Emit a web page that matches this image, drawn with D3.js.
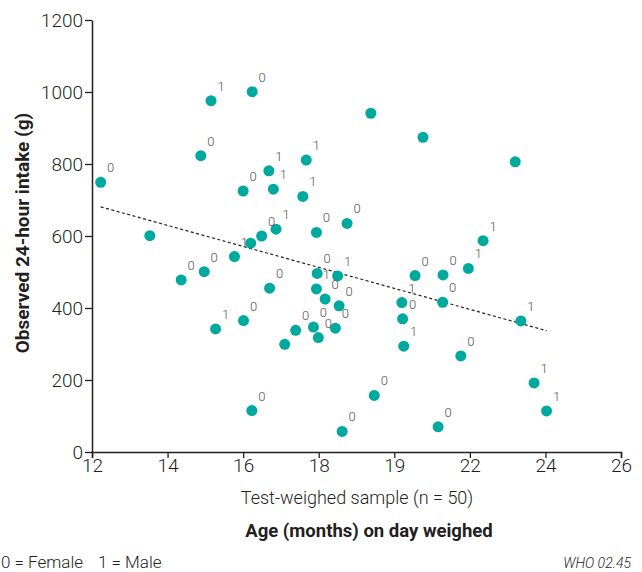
<!DOCTYPE html>
<html>
<head>
<meta charset="utf-8">
<script src="https://cdn.jsdelivr.net/npm/d3@7"></script>
<style>
  body { margin: 0; background: #fff; }
  svg text { font-family: Roboto, "Liberation Sans", sans-serif; font-weight: 300; }
</style>
</head>
<body>
<div id="chart"></div>
<script>
// age (months) on day weighed, observed 24-hour intake (g), sex label (0 = female, 1 = male)
const ages = [12.23, 13.53, 15.15, 16.24, 14.88, 16.68, 16.0, 16.8, 16.49, 16.87,
  16.2, 14.36, 14.97, 15.77, 16.7, 15.27, 16.01, 16.23, 19.38, 20.76,
  17.67, 17.58, 17.94, 18.75, 17.96, 17.94, 18.5, 18.17, 18.54, 17.39,
  17.86, 18.44, 17.99, 17.1, 20.2, 20.22, 20.25, 20.55, 21.29, 21.28,
  19.47, 18.62, 21.16, 21.96, 22.35, 23.35, 21.76, 23.7, 24.03, 23.2];
const intakes = [749, 601, 976, 1001, 823, 781, 725, 730, 600, 619,
  580, 478, 501, 543, 455, 342, 365, 115, 941, 874,
  811, 710, 610, 635, 496, 453, 489, 425, 406, 338,
  347, 344, 318, 299, 415, 370, 294, 490, 492, 416,
  157, 57, 70, 510, 587, 364, 267, 192, 114, 806];
const sexLabels = ["0", null, "1", "0", "0", "1", "0", "1", "0", "1",
  null, "0", "0", "1", "0", "1", "0", "0", null, null,
  "1", "1", "0", "0", "0", "1", "1", "0", "0", "0",
  "0", "0", "0", null, "1", "0", "1", "0", "0", "0",
  "0", "0", "0", "1", "1", "1", "0", "1", "1", null];

// fitted trend line end points
const trendAges = [12.23, 24.03];
const trendIntakes = [681, 337];

const xTicks = [12, 14, 16, 18, 20, 22, 24, 26];
const xTickLabels = ["12", "14", "16", "18", "19", "22", "24", "26"];
const yTicks = [0, 200, 400, 600, 800, 1000, 1200];

const width = 642, height = 572;
const svg = d3.select("#chart").append("svg")
  .attr("width", width)
  .attr("height", height);

const x = d3.scaleLinear().domain([12, 26]).range([92, 621]);
const y = d3.scaleLinear().domain([0, 1200]).range([452, 20]);

const ink = "#231f20";

// y axis
const gy = svg.append("g")
  .attr("transform", "translate(92,0)")
  .call(d3.axisLeft(y).tickValues(yTicks).tickFormat(d3.format("d"))
    .tickSize(7).tickPadding(2).tickSizeOuter(0));
gy.select(".domain").attr("stroke", ink).attr("stroke-width", 1.5);
gy.selectAll(".tick line").attr("stroke", ink).attr("stroke-width", 1.3);
gy.selectAll(".tick text").attr("fill", ink).style("font-size", "19px").attr("dy", "0.36em");

// x axis
const gx = svg.append("g")
  .attr("transform", "translate(0,452)")
  .call(d3.axisBottom(x).tickValues(xTicks).tickFormat((d, i) => xTickLabels[i])
    .tickSize(6).tickPadding(1).tickSizeOuter(6));
gx.select(".domain").attr("stroke", ink).attr("stroke-width", 1.5);
gx.selectAll(".tick line").attr("stroke", ink).attr("stroke-width", 1.3);
gx.selectAll(".tick text").attr("fill", ink).style("font-size", "19px");

// trend line
svg.append("line")
  .attr("x1", x(trendAges[0])).attr("y1", y(trendIntakes[0]))
  .attr("x2", x(trendAges[1])).attr("y2", y(trendIntakes[1]))
  .attr("stroke", ink)
  .attr("stroke-width", 1.2)
  .attr("stroke-dasharray", "3,2.5");

// points
const pts = ages.map((a, i) => ({ age: a, intake: intakes[i], sex: sexLabels[i] }));

svg.append("g").selectAll("circle")
  .data(pts)
  .join("circle")
  .attr("cx", d => x(d.age))
  .attr("cy", d => y(d.intake))
  .attr("r", 5.5)
  .attr("fill", "#00a99d");

svg.append("g").selectAll("text")
  .data(pts.filter(d => d.sex !== null))
  .join("text")
  .attr("x", d => x(d.age) + 10)
  .attr("y", d => y(d.intake) - 10)
  .attr("text-anchor", "middle")
  .attr("fill", "#555")
  .style("font-size", "13px")
  .text(d => d.sex);

// titles
svg.append("text")
  .attr("x", 357).attr("y", 504)
  .attr("text-anchor", "middle")
  .attr("fill", ink)
  .style("font-size", "18px")
  .text("Test-weighed sample (n = 50)");

svg.append("text")
  .attr("x", 369).attr("y", 537)
  .attr("text-anchor", "middle")
  .attr("fill", ink)
  .style("font-size", "18.5px")
  .style("font-weight", "bold")
  .text("Age (months) on day weighed");

svg.append("text")
  .attr("transform", "translate(29,233) rotate(-90)")
  .attr("text-anchor", "middle")
  .attr("fill", ink)
  .style("font-size", "19px")
  .style("font-weight", "bold")
  .text("Observed 24-hour intake (g)");

// footer
svg.append("text")
  .attr("x", 1).attr("y", 568)
  .attr("fill", ink)
  .style("font-size", "17px")
  .text("0 = Female");

svg.append("text")
  .attr("x", 98).attr("y", 568)
  .attr("fill", ink)
  .style("font-size", "17px")
  .text("1 = Male");

svg.append("text")
  .attr("x", 631).attr("y", 568)
  .attr("text-anchor", "end")
  .attr("fill", ink)
  .style("font-size", "14px")
  .style("font-style", "italic")
  .text("WHO 02.45");
</script>
</body>
</html>
